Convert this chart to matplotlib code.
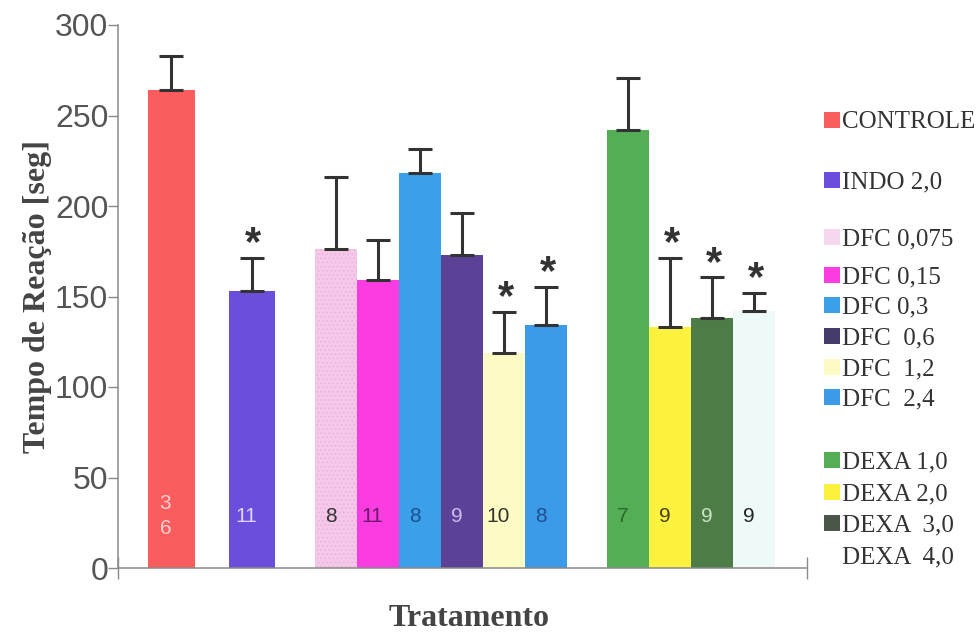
import numpy as np
import matplotlib.pyplot as plt
from matplotlib.patches import Rectangle

# tempo de reação (s) por tratamento, média + EPM, n por grupo
groups = ["CONTROLE", "INDO 2,0", "DFC 0,075", "DFC 0,15", "DFC 0,3", "DFC  0,6",
          "DFC  1,2", "DFC  2,4", "DEXA 1,0", "DEXA 2,0", "DEXA  3,0", "DEXA  4,0"]
means = [264, 153, 176, 159, 218, 173, 119, 134, 242, 133, 138, 142]
sem = [19, 18.5, 40, 22, 13.5, 23, 22.5, 21.5, 28.5, 38.5, 22.5, 10]
n_animals = ["3\n6", "11", "8", "11", "8", "9", "10", "8", "7", "9", "9", "9"]
significant = [False, True, False, False, False, False, True, True, False, True, True, True]

bar_colors = ["#fb5d5f", "#6b4fdc", "#f5c8ea", "#fb3ce0", "#3aa0ea", "#5c4296",
              "#fdfbc4", "#3b9be8", "#53ae55", "#fdf23e", "#4e7c46", "#eefaf8"]
n_colors = ["#ffd0d0", "#ddd5ff", "#333333", "#6a1a6a", "#1f4f8f", "#cbbcf0",
            "#333333", "#1f4f8f", "#2a6a2a", "#4a4000", "#c8e4c4", "#222222"]
legend_colors = ["#fb5d5f", "#6b4fdc", "#f5d8ee", "#fb3ce0", "#3aa0ea", "#453a6a",
                 "#fdfbc4", "#3b9be8", "#53ae55", "#fdf23e", "#4a5648", "#ffffff"]

# layout: bar positions in units of one bar width
xpos = [1.27, 3.19] + [5.2 + i for i in range(6)] + [12.15 + i for i in range(4)]
widths = [1.12, 1.1] + [1.0] * 10
legend_rows_px = [120, 180, 237, 275, 305, 336, 367, 397, 460, 492, 523, 555]

W, H = 979, 637
plt.rcParams["hatch.linewidth"] = 0.6
fig = plt.figure(figsize=(W / 100, H / 100), dpi=100)
ax = fig.add_axes([118 / W, 1 - 568 / H, (806.7 - 118) / W, (568 - 25) / H])

bars = ax.bar(xpos, means, width=widths, color=bar_colors, linewidth=0, zorder=2)
bars[2].set_hatch("....")
bars[2].set_edgecolor("#eab0dc")

ax.errorbar(xpos, means, yerr=[np.zeros(len(sem)), sem], fmt="none",
            ecolor="#333333", elinewidth=2.2, capsize=8.5, capthick=2.2, zorder=3)

for x, m, s, star in zip(xpos, means, sem, significant):
    if star:
        ax.annotate("*", xy=(x, m + s), xytext=(1, 2), textcoords="offset points",
                    ha="center", va="baseline", fontsize=30, fontweight="bold",
                    family="Liberation Sans", color="#333333")

for x, label, c in zip(xpos, n_animals, n_colors):
    ax.text(x - 0.14, 28.5, label, ha="center", va="center", fontsize=15,
            family="Liberation Sans", color=c, linespacing=1.4, zorder=4)

ax.set_xlim(0, 16.4)
ax.set_ylim(0, 300)
ax.set_yticks(np.arange(0, 301, 50))
ax.set_xticks([0, 16.4])
ax.set_xticklabels([])
ax.tick_params(axis="y", direction="out", length=7, width=1, color="#8a8a8a",
               labelsize=23, labelcolor="#555555", pad=0)
ax.tick_params(axis="x", direction="inout", length=16, width=1, color="#8a8a8a")
for lab in ax.get_yticklabels():
    lab.set_family("Liberation Sans")
for side in ["top", "right"]:
    ax.spines[side].set_visible(False)
for side in ["left", "bottom"]:
    ax.spines[side].set_color("#8a8a8a")
    ax.spines[side].set_linewidth(1.1)

ax.set_ylabel("Tempo de Reação [seg]", family="Liberation Serif", fontweight="bold",
              fontsize=23, color="#444444", labelpad=2)
fig.text(469 / W, 1 - 618 / H, "Tratamento", family="Liberation Serif",
         fontweight="bold", fontsize=23, color="#444444", ha="center", va="center")

# legend drawn by hand, rows are not evenly spaced
for name, c, row in zip(groups, legend_colors, legend_rows_px):
    fig.add_artist(Rectangle((824 / W, 1 - (row + 8) / H), 16 / W, 16 / H,
                             transform=fig.transFigure, facecolor=c, linewidth=0))
    fig.text(842 / W, 1 - (row + 8) / H, name, family="Liberation Serif",
             fontsize=18, color="#333333", ha="left", va="baseline")

fig.savefig("out.png", dpi=100)
